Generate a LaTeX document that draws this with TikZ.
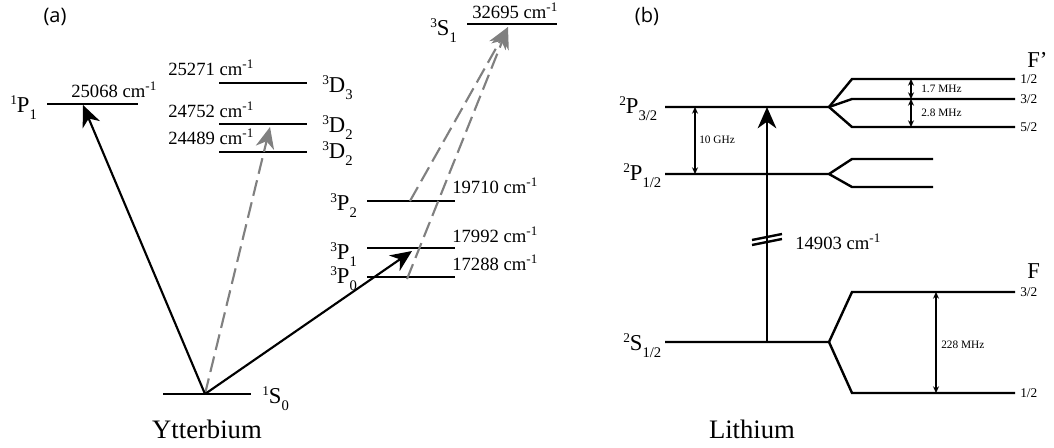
\documentclass[tikz,border=0pt]{standalone}
\usepackage{fontspec}
\setmainfont{Liberation Serif}
\newfontfamily\panelfont{Open Sans}
\usetikzlibrary{arrows.meta}
\newcommand\term[3]{\raisebox{0.75ex}{\fontsize{10}{10}\selectfont #1}#2\raisebox{-0.7ex}{\fontsize{11}{11}\selectfont #3}}
\newcommand\wn[1]{#1 cm\textsuperscript{-1}}
\begin{document}
\begin{tikzpicture}[x=0.75pt,y=-0.75pt,
  lev/.style={line width=1.8pt},
  num/.style={font=\fontsize{14}{16}\selectfont, inner sep=0, anchor=base west},
  st/.style={font=\fontsize{17}{19}\selectfont, inner sep=0, anchor=base west},
  fl/.style={font=\fontsize{10}{12}\selectfont, inner sep=0, anchor=west},
  sm/.style={font=\fontsize{8.5}{10}\selectfont, inner sep=0, anchor=west},
  big/.style={font=\fontsize{20}{22}\selectfont, inner sep=0, anchor=base},
  panel/.style={font=\panelfont\fontsize{15}{17}\selectfont, inner sep=0},
  blk/.style={line width=1.6pt, -{Stealth[length=16pt,width=14pt,inset=5pt]}},
  gry/.style={line width=1.6pt, draw={rgb,255:red,128;green,128;blue,128}, dash pattern=on 12pt off 5pt,
     -{Stealth[length=16pt,width=14pt,inset=5pt,fill={rgb,255:red,128;green,128;blue,128}]}},
  dbl/.style={line width=1.1pt, {Stealth[length=5pt,width=4.5pt]}-{Stealth[length=5pt,width=4.5pt]}}
]
\useasboundingbox (0,0) rectangle (1054,447);

% ---------- (a) Ytterbium ----------
\node[panel] (pa) at (55,17) {(a)};
\coordinate (s0L) at (163,394); \coordinate (s0R) at (251,394); \coordinate (s0) at (205,394);
\coordinate (p1L) at (47,104); \coordinate (p1R) at (138,104); \coordinate (p1t) at (83,105);
\coordinate (d3L) at (219,83); \coordinate (d3R) at (307,83);
\coordinate (d2aL) at (219,124); \coordinate (d2aR) at (307,124); \coordinate (d2t) at (270,127);
\coordinate (d2bL) at (219,152); \coordinate (d2bR) at (307,152);
\coordinate (s1L) at (467,24); \coordinate (s1R) at (557,24); \coordinate (s1t) at (508,27);
\coordinate (tp2L) at (367,201); \coordinate (tp2R) at (455,201); \coordinate (tp2s) at (410,201);
\coordinate (tp1L) at (367,248); \coordinate (tp1R) at (455,248); \coordinate (tp1t) at (412,251);
\coordinate (tp0L) at (367,277); \coordinate (tp0R) at (455,277); \coordinate (tp0s) at (407,279);

\foreach \a/\b in {s0L/s0R,p1L/p1R,d3L/d3R,d2aL/d2aR,d2bL/d2bR,s1L/s1R,tp2L/tp2R,tp1L/tp1R,tp0L/tp0R}
  \draw[lev] (\a) -- (\b);

\node[st] (l1p1) at (10,112) {\term{1}{P}{1}};
\node[num] (n25068) at (71,97) {\wn{25068}};
\node[num] (n25271) at (168,75) {\wn{25271}};
\node[num] (n24752) at (168,117) {\wn{24752}};
\node[num] (n24489) at (168,144) {\wn{24489}};
\node[st] (l3d3) at (322,92) {\term{3}{D}{3}};
\node[st] (l3d2a) at (322,132) {\term{3}{D}{2}};
\node[st] (l3d2b) at (322,158) {\term{3}{D}{2}};
\node[st] (l3s1) at (430,35) {\term{3}{S}{1}};
\node[num] (n32695) at (472,18) {\wn{32695}};
\node[num] (n19710) at (452,193) {\wn{19710}};
\node[num] (n17992) at (452,242) {\wn{17992}};
\node[num] (n17288) at (452,270) {\wn{17288}};
\node[st] (l3p2) at (330,210) {\term{3}{P}{2}};
\node[st] (l3p1) at (330,259) {\term{3}{P}{1}};
\node[st] (l3p0) at (330,283) {\term{3}{P}{0}};
\node[st] (l1s0) at (262,403) {\term{1}{S}{0}};
\node[big] (yb) at (207,438) {Ytterbium};

\draw[gry] (s0) -- (d2t);
\draw[gry] (tp2s) -- (s1t);
\draw[gry] (tp0s) -- (s1t);
\draw[blk] (s0) -- (p1t);
\draw[blk] (s0) -- (tp1t);

% ---------- (b) Lithium ----------
\node[panel] (pb) at (647,16) {(b)};
\coordinate (a1) at (665,107); \coordinate (a2) at (829,107);
\coordinate (a3) at (852,79); \coordinate (a4) at (1015,79);
\coordinate (a5) at (852,99); \coordinate (a6) at (1015,99);
\coordinate (a7) at (852,127); \coordinate (a8) at (1015,127);
\coordinate (b1) at (665,174); \coordinate (b2) at (829,174);
\coordinate (b3) at (852,159); \coordinate (b4) at (933,159);
\coordinate (b5) at (852,187); \coordinate (b6) at (933,187);
\coordinate (c1) at (665,342); \coordinate (c2) at (829,342);
\coordinate (c3) at (852,292); \coordinate (c4) at (1015,292);
\coordinate (c5) at (852,393); \coordinate (c6) at (1015,393);

\draw[lev] (a1) -- (a2) -- (a3) -- (a4);
\draw[lev] (a2) -- (a5) -- (a6);
\draw[lev] (a2) -- (a7) -- (a8);
\draw[lev] (b1) -- (b2) -- (b3) -- (b4);
\draw[lev] (b2) -- (b5) -- (b6);
\draw[lev] (c1) -- (c2) -- (c3) -- (c4);
\draw[lev] (c2) -- (c5) -- (c6);

\coordinate (vb) at (767,342); \coordinate (vt) at (767,107);
\draw[blk] (vb) -- (vt);
\coordinate (k1) at (752,240); \coordinate (k2) at (782,234);
\coordinate (k3) at (752,245); \coordinate (k4) at (782,239);
\draw[lev] (k1) -- (k2);
\draw[lev] (k3) -- (k4);

\coordinate (g1) at (695,107); \coordinate (g2) at (695,174);
\draw[dbl] (g1) -- (g2);
\coordinate (h1) at (911,79); \coordinate (h2) at (911,99); \coordinate (h3) at (911,127);
\draw[dbl] (h1) -- (h2);
\draw[dbl] (h2) -- (h3);
\coordinate (m1) at (936,292); \coordinate (m2) at (936,393);
\draw[dbl] (m1) -- (m2);

\node[st] (l2p32) at (619,113) {\term{2}{P}{3/2}};
\node[st] (l2p12) at (623,180) {\term{2}{P}{1/2}};
\node[st] (l2s12) at (623,350) {\term{2}{S}{1/2}};
\node[st] (lFp) at (1027,67) {F’};
\node[st] (lF) at (1027,278) {F};
\node[fl] (f1) at (1020,79) {1/2};
\node[fl] (f2) at (1020,99) {3/2};
\node[fl] (f3) at (1020,127) {5/2};
\node[fl] (f4) at (1020,292) {3/2};
\node[fl] (f5) at (1020,393) {1/2};
\node[sm] (t17) at (921,89) {1.7 MHz};
\node[sm] (t28) at (921,113) {2.8 MHz};
\node[sm] (t10) at (699,140) {10 GHz};
\node[sm] (t228) at (941,345) {228 MHz};
\node[num, anchor=west] (n14903) at (795,242) {\wn{14903}};
\node[big] (li) at (752,438) {Lithium};
\end{tikzpicture}
\end{document}
